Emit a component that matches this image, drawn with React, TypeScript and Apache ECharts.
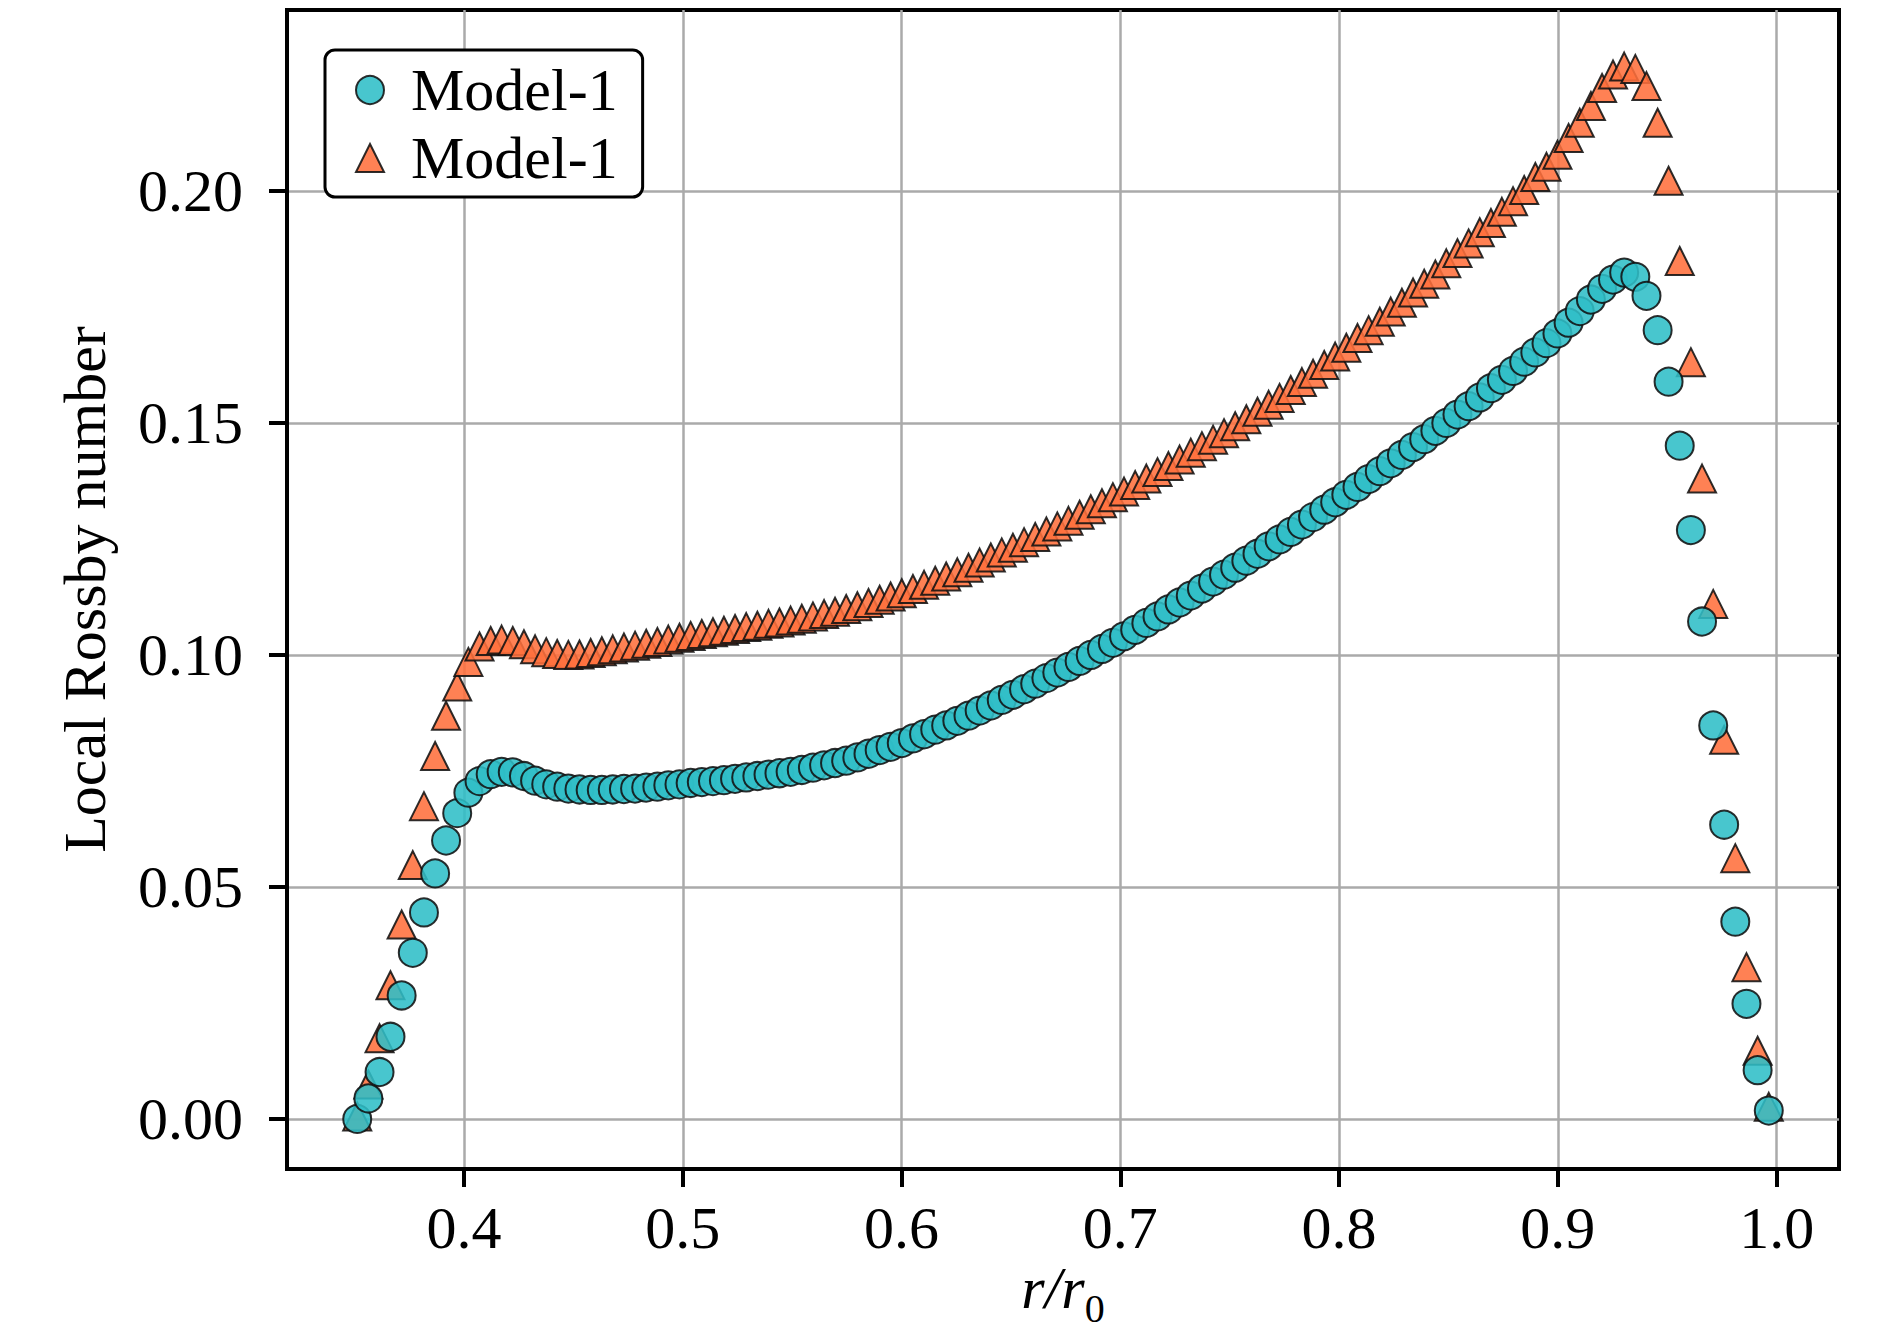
import React, { useEffect, useRef } from "react";
import * as echarts from "echarts";

// r / r0 sample positions
const X = [
  0.3512, 0.3563, 0.3614, 0.3664, 0.3715, 0.3766, 0.3817, 0.3868, 0.3918, 0.3969,
  0.4020, 0.4071, 0.4122, 0.4172, 0.4223, 0.4274, 0.4325, 0.4376, 0.4426, 0.4477,
  0.4528, 0.4579, 0.4630, 0.4680, 0.4731, 0.4782, 0.4833, 0.4884, 0.4934, 0.4985,
  0.5036, 0.5087, 0.5138, 0.5188, 0.5239, 0.5290, 0.5341, 0.5392, 0.5442, 0.5493,
  0.5544, 0.5595, 0.5646, 0.5696, 0.5747, 0.5798, 0.5849, 0.5900, 0.5950, 0.6001,
  0.6052, 0.6103, 0.6154, 0.6204, 0.6255, 0.6306, 0.6357, 0.6408, 0.6458, 0.6509,
  0.6560, 0.6611, 0.6662, 0.6712, 0.6763, 0.6814, 0.6865, 0.6916, 0.6966, 0.7017,
  0.7068, 0.7119, 0.7170, 0.7220, 0.7271, 0.7322, 0.7373, 0.7424, 0.7474, 0.7525,
  0.7576, 0.7627, 0.7678, 0.7728, 0.7779, 0.7830, 0.7881, 0.7932, 0.7982, 0.8033,
  0.8084, 0.8135, 0.8186, 0.8236, 0.8287, 0.8338, 0.8389, 0.8440, 0.8490, 0.8541,
  0.8592, 0.8643, 0.8694, 0.8744, 0.8795, 0.8846, 0.8897, 0.8948, 0.8998, 0.9049,
  0.9100, 0.9151, 0.9202, 0.9252, 0.9303, 0.9354, 0.9405, 0.9456, 0.9506, 0.9557,
  0.9608, 0.9659, 0.9710, 0.9760, 0.9811, 0.9862, 0.9913, 0.9964,
];

// Local Rossby number, circle series
const CIRCLES = [
  0.0000, 0.0044, 0.0101, 0.0177, 0.0266, 0.0358, 0.0445, 0.0529, 0.0600, 0.0659,
  0.0703, 0.0728, 0.0743, 0.0748, 0.0747, 0.0739, 0.0729, 0.0721, 0.0716, 0.0712,
  0.0710, 0.0709, 0.0709, 0.0710, 0.0711, 0.0712, 0.0714, 0.0716, 0.0719, 0.0721,
  0.0724, 0.0726, 0.0728, 0.0730, 0.0733, 0.0736, 0.0739, 0.0742, 0.0745, 0.0748,
  0.0752, 0.0757, 0.0762, 0.0767, 0.0772, 0.0779, 0.0787, 0.0795, 0.0802, 0.0810,
  0.0820, 0.0829, 0.0839, 0.0848, 0.0858, 0.0869, 0.0880, 0.0891, 0.0903, 0.0914,
  0.0926, 0.0938, 0.0950, 0.0962, 0.0974, 0.0987, 0.1000, 0.1013, 0.1026, 0.1040,
  0.1054, 0.1069, 0.1083, 0.1098, 0.1113, 0.1128, 0.1143, 0.1158, 0.1173, 0.1188,
  0.1203, 0.1218, 0.1234, 0.1249, 0.1265, 0.1281, 0.1297, 0.1313, 0.1329, 0.1345,
  0.1362, 0.1379, 0.1396, 0.1413, 0.1431, 0.1448, 0.1465, 0.1483, 0.1500, 0.1518,
  0.1536, 0.1555, 0.1575, 0.1593, 0.1612, 0.1632, 0.1652, 0.1672, 0.1693, 0.1716,
  0.1741, 0.1766, 0.1789, 0.1809, 0.1824, 0.1815, 0.1774, 0.1700, 0.1589, 0.1451,
  0.1269, 0.1072, 0.0848, 0.0634, 0.0425, 0.0248, 0.0105, 0.0018,
];

// Local Rossby number, triangle series
const TRIANGLES = [
  0.0005, 0.0074, 0.0174, 0.0288, 0.0419, 0.0547, 0.0674, 0.0782, 0.0869, 0.0932,
  0.0985, 0.1018, 0.1030, 0.1033, 0.1030, 0.1023, 0.1012, 0.1006, 0.1002, 0.1000,
  0.1001, 0.1004, 0.1008, 0.1012, 0.1016, 0.1020, 0.1024, 0.1028, 0.1033, 0.1037,
  0.1041, 0.1045, 0.1049, 0.1052, 0.1056, 0.1060, 0.1063, 0.1067, 0.1070, 0.1074,
  0.1078, 0.1083, 0.1088, 0.1093, 0.1099, 0.1105, 0.1112, 0.1119, 0.1126, 0.1133,
  0.1142, 0.1151, 0.1160, 0.1169, 0.1178, 0.1188, 0.1199, 0.1210, 0.1221, 0.1231,
  0.1243, 0.1254, 0.1266, 0.1277, 0.1289, 0.1302, 0.1314, 0.1327, 0.1340, 0.1352,
  0.1366, 0.1380, 0.1394, 0.1407, 0.1421, 0.1436, 0.1450, 0.1464, 0.1478, 0.1493,
  0.1508, 0.1524, 0.1539, 0.1554, 0.1571, 0.1588, 0.1606, 0.1625, 0.1643, 0.1662,
  0.1683, 0.1700, 0.1718, 0.1740, 0.1759, 0.1781, 0.1800, 0.1820, 0.1844, 0.1866,
  0.1887, 0.1911, 0.1931, 0.1955, 0.1978, 0.2002, 0.2030, 0.2052, 0.2078, 0.2114,
  0.2147, 0.2183, 0.2222, 0.2251, 0.2268, 0.2263, 0.2226, 0.2147, 0.2022, 0.1849,
  0.1631, 0.1380, 0.1110, 0.0817, 0.0562, 0.0327, 0.0147, 0.0026,
];

const X_TICKS = [0.4, 0.5, 0.6, 0.7, 0.8, 0.9, 1.0];
const Y_TICKS = [0.0, 0.05, 0.1, 0.15, 0.2];
const LEGEND_LABEL = "Model-1";
const NAME_C = "Model-1 circles";
const NAME_T = "Model-1 triangles";

export default function App() {
  const ref = useRef<HTMLDivElement>(null);

  useEffect(() => {
    if (!ref.current) return;
    const chart = echarts.init(ref.current, null, { renderer: "svg" });
    const font = "'Liberation Serif', 'Times New Roman', serif";

    chart.setOption({
      animation: false,
      backgroundColor: "#ffffff",
      grid: {
        left: 287,
        top: 10,
        width: 1552,
        height: 1159,
        containLabel: false,
        outerBoundsMode: "none",
        show: true,
        borderColor: "#000",
        borderWidth: 4,
        backgroundColor: "transparent",
      },
      xAxis: {
        type: "value",
        min: 0.3191,
        max: 1.0285,
        axisLine: { show: true, onZero: false, lineStyle: { color: "#000", width: 4 } },
        axisTick: {
          show: true,
          inside: false,
          length: 18,
          customValues: X_TICKS,
          lineStyle: { color: "#000", width: 4 },
        },
        axisLabel: {
          customValues: X_TICKS,
          margin: 29,
          fontFamily: font,
          fontSize: 60,
          color: "#000",
          formatter: (v: number) => v.toFixed(1),
        },
        splitLine: { show: true, lineStyle: { color: "#aaaaaa", width: 2.5 } },
        name: "{i|r/r}{s|0}",
        nameLocation: "middle",
        nameGap: 89,
        nameMoveOverlap: false,
        nameTextStyle: {
          fontFamily: font,
          color: "#000",
          rich: {
            i: { fontFamily: font, fontSize: 60, lineHeight: 60, fontStyle: "italic", color: "#000", verticalAlign: "top" },
            s: { fontFamily: font, fontSize: 40, lineHeight: 40, color: "#000", padding: [30, 0, 0, 0], verticalAlign: "top" },
          },
        },
      },
      yAxis: {
        type: "value",
        min: -0.0108,
        max: 0.239,
        axisLine: { show: true, onZero: false, lineStyle: { color: "#000", width: 4 } },
        axisTick: {
          show: true,
          inside: false,
          length: 18,
          customValues: Y_TICKS,
          lineStyle: { color: "#000", width: 4 },
        },
        axisLabel: {
          customValues: Y_TICKS,
          margin: 44,
          fontFamily: font,
          fontSize: 60,
          color: "#000",
          formatter: (v: number) => v.toFixed(2),
        },
        splitLine: { show: true, lineStyle: { color: "#aaaaaa", width: 2.5 } },
        name: "Local Rossby number",
        nameLocation: "middle",
        nameGap: 172,
        nameRotate: 90,
        nameMoveOverlap: false,
        nameTextStyle: { fontFamily: font, fontSize: 60, color: "#000" },
      },
      legend: {
        data: [NAME_C, NAME_T],
        orient: "vertical",
        left: 325,
        top: 50,
        padding: [10, 25, 9, 30],
        itemGap: 8,
        itemWidth: 28,
        itemHeight: 28,
        backgroundColor: "#ffffff",
        borderColor: "#000",
        borderWidth: 3,
        borderRadius: 10,
        selectedMode: false,
        formatter: () => "{t|" + LEGEND_LABEL + "}",
        textStyle: {
          rich: {
            t: { fontFamily: font, fontSize: 60, lineHeight: 60, color: "#000", padding: [0, 0, 0, 22] },
          },
        },
        z: 10,
      },
      series: [
        {
          name: NAME_T,
          type: "scatter",
          symbol: "triangle",
          symbolSize: 28,
          data: X.map((x, i) => [x, TRIANGLES[i]]),
          itemStyle: { color: "#ff6f3c", borderColor: "#111", borderWidth: 2, opacity: 0.88 },
          emphasis: { disabled: true },
          z: 2,
        },
        {
          name: NAME_C,
          type: "scatter",
          symbol: "circle",
          symbolSize: 28,
          data: X.map((x, i) => [x, CIRCLES[i]]),
          itemStyle: { color: "#2fbec7", borderColor: "#111", borderWidth: 2, opacity: 0.88 },
          emphasis: { disabled: true },
          z: 3,
        },
      ],
    });

    return () => {
      chart.dispose();
    };
  }, []);

  return (
    <div
      ref={ref}
      style={{ position: "absolute", left: 0, top: 0, width: 1891, height: 1342 }}
    />
  );
}
